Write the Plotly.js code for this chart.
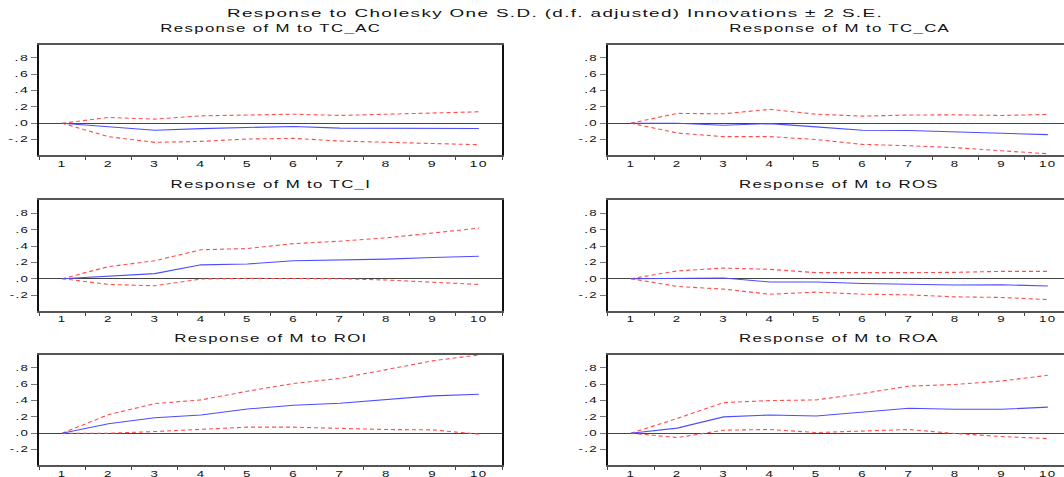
<!DOCTYPE html>
<html>
<head>
<meta charset="utf-8">
<script src="https://cdn.plot.ly/plotly-3.0.1.min.js"></script>
<style>
html, body { margin: 0; padding: 0; overflow: hidden; background: #ffffff; }
#chart { width: 1072px; height: 477px; }
</style>
</head>
<body>
<div id="chart"></div>
<script>
// ---- data ----
const periods = ['1','2','3','4','5','6','7','8','9','10'];
const shockNames = ['TC_AC','TC_CA','TC_I','ROS','ROI','ROA'];
const yTickVals = [-0.2, 0, 0.2, 0.4, 0.6, 0.8];
const yTickText = ['-.2', '.0', '.2', '.4', '.6', '.8'];
const mainTitle = 'Response to Cholesky One S.D. (d.f. adjusted) Innovations \u00b1 2 S.E.';

const resp_TC_AC  = [0, -0.040, -0.087, -0.066, -0.050, -0.040, -0.060, -0.062, -0.062, -0.065];
const upper_TC_AC = [0,  0.070,  0.050,  0.090,  0.100,  0.110,  0.095,  0.107,  0.124,  0.140];
const lower_TC_AC = [0, -0.165, -0.235, -0.223, -0.194, -0.186, -0.219, -0.231, -0.247, -0.264];

const resp_TC_CA  = [0,  0.000, -0.025, -0.005, -0.045, -0.087, -0.090, -0.103, -0.124, -0.140];
const upper_TC_CA = [0,  0.120,  0.115,  0.170,  0.110,  0.087,  0.100,  0.103,  0.095,  0.107];
const lower_TC_CA = [0, -0.120, -0.165, -0.165, -0.200, -0.260, -0.276, -0.300, -0.338, -0.375];

const resp_TC_I   = [0,  0.033,  0.062,  0.170,  0.180,  0.220,  0.227,  0.240,  0.260,  0.276];
const upper_TC_I  = [0,  0.148,  0.220,  0.355,  0.370,  0.430,  0.460,  0.500,  0.560,  0.620];
const lower_TC_I  = [0, -0.070, -0.087, -0.004,  0.004,  0.004,  0.000, -0.016, -0.040, -0.070];

const resp_ROS    = [0,  0.000,  0.008, -0.040, -0.040, -0.058, -0.066, -0.078, -0.074, -0.090];
const upper_ROS   = [0,  0.095,  0.130,  0.115,  0.074,  0.070,  0.074,  0.078,  0.090,  0.090];
const lower_ROS   = [0, -0.095, -0.128, -0.190, -0.165, -0.190, -0.198, -0.223, -0.230, -0.256];

const resp_ROI    = [0,  0.115,  0.190,  0.223,  0.297,  0.342,  0.367,  0.408,  0.458,  0.478];
const upper_ROI   = [0,  0.227,  0.363,  0.408,  0.515,  0.610,  0.672,  0.775,  0.887,  0.960];
const lower_ROI   = [0,  0.000,  0.020,  0.050,  0.074,  0.074,  0.058,  0.045,  0.041, -0.012];

const resp_ROA    = [0,  0.062,  0.200,  0.223,  0.210,  0.260,  0.305,  0.293,  0.293,  0.320];
const upper_ROA   = [0,  0.180,  0.375,  0.400,  0.408,  0.487,  0.577,  0.598,  0.640,  0.710];
const lower_ROA   = [0, -0.054,  0.037,  0.045,  0.008,  0.025,  0.045, -0.004, -0.041, -0.066];

const panels = [
  {name: 'TC_AC', resp: resp_TC_AC, upper: upper_TC_AC, lower: lower_TC_AC},
  {name: 'TC_CA', resp: resp_TC_CA, upper: upper_TC_CA, lower: lower_TC_CA},
  {name: 'TC_I',  resp: resp_TC_I,  upper: upper_TC_I,  lower: lower_TC_I},
  {name: 'ROS',   resp: resp_ROS,   upper: upper_ROS,   lower: lower_ROS},
  {name: 'ROI',   resp: resp_ROI,   upper: upper_ROI,   lower: lower_ROI},
  {name: 'ROA',   resp: resp_ROA,   upper: upper_ROA,   lower: lower_ROA}
];

// ---- layout geometry (pixels) ----
const W = 1072, H = 477;
const colX = [[39, 502], [607.7, 1071]];
const rowY = [[44.5, 155], [200, 310.5], [354.5, 465]];
const yRange = [-0.39, 0.965];
const FONT = 'Liberation Sans, Arial, sans-serif';

const traces = [];
const layout = {
  width: W, height: H,
  margin: {l: 0, r: 0, t: 0, b: 0, pad: 0},
  paper_bgcolor: '#ffffff', plot_bgcolor: '#ffffff',
  showlegend: false,
  font: {family: FONT, color: '#000000', size: 10},
  title: {
    text: mainTitle,
    x: 555 / W, xanchor: 'center', xref: 'paper',
    y: 1 - 13.2 / H, yanchor: 'middle', yref: 'container',
    font: {family: FONT, size: 11.8, color: '#111111'}
  },
  annotations: []
};

panels.forEach((p, i) => {
  const col = i % 2, row = Math.floor(i / 2);
  const k = i === 0 ? '' : String(i + 1);
  const xa = 'x' + k, ya = 'y' + k;
  const xDom = [colX[col][0] / W, colX[col][1] / W];
  const yDom = [1 - rowY[row][1] / H, 1 - rowY[row][0] / H];

  layout['xaxis' + k] = {
    domain: xDom, anchor: ya, type: 'category',
    categoryorder: 'array', categoryarray: periods,
    range: [-0.5, 9.5], fixedrange: true,
    showgrid: false, zeroline: false,
    showline: true, mirror: true, linecolor: '#555555', linewidth: 2,
    ticks: 'outside', tickson: 'boundaries', ticklen: 3, tickwidth: 1, tickcolor: '#444444',
    tickfont: {family: FONT, size: 8.3, color: '#111111'}
  };
  layout['yaxis' + k] = {
    domain: yDom, anchor: xa, range: yRange, fixedrange: true,
    showgrid: false,
    zeroline: true, zerolinecolor: '#444444', zerolinewidth: 1,
    showline: true, mirror: true, linecolor: '#111111', linewidth: 2,
    ticks: 'outside', ticklen: 6, tickwidth: 1, tickcolor: '#777777',
    tickvals: yTickVals, ticktext: yTickText,
    tickfont: {family: FONT, size: 8.3, color: '#111111'}
  };

  traces.push({
    x: periods, y: p.upper, xaxis: xa, yaxis: ya, type: 'scatter', mode: 'lines',
    line: {color: '#ff4d4d', width: 1.1, dash: '4px,3px'}, hoverinfo: 'skip'
  });
  traces.push({
    x: periods, y: p.lower, xaxis: xa, yaxis: ya, type: 'scatter', mode: 'lines',
    line: {color: '#ff4d4d', width: 1.1, dash: '4px,3px'}, hoverinfo: 'skip'
  });
  traces.push({
    x: periods, y: p.resp, xaxis: xa, yaxis: ya, type: 'scatter', mode: 'lines',
    line: {color: '#4d4dff', width: 1.1}, hoverinfo: 'skip'
  });

  layout.annotations.push({
    text: 'Response of M to ' + p.name,
    xref: 'paper', yref: 'paper',
    x: (xDom[0] + xDom[1]) / 2, xanchor: 'center',
    y: 1 - (rowY[row][0] - 16.3) / H, yanchor: 'middle',
    showarrow: false,
    font: {family: FONT, size: 10.5, color: '#111111'}
  });
});

// Reference text is drawn horizontally stretched; reproduce that look.
function stretchText(gd) {
  const texts = gd.querySelectorAll('.main-svg text');
  texts.forEach(el => {
    const isTick = !!el.closest('.xtick, .ytick');
    const spacing = isTick ? 0.9 : 0.85;
    const scale = isTick ? 1.7 : 1.6;
    el.style.letterSpacing = spacing + 'px';
    let bb;
    try { bb = el.getBBox(); } catch (e) { return; }
    if (!bb || bb.width === 0) return;
    const anchor = el.getAttribute('text-anchor') || 'start';
    let px;
    if (anchor === 'end') px = bb.x + bb.width;
    else if (anchor === 'middle') px = bb.x + bb.width / 2;
    else px = bb.x;
    const t = el.getAttribute('transform') || '';
    el.setAttribute('transform', (t + ' translate(' + px + ',0) scale(' + scale + ',1) translate(' + (-px) + ',0)').trim());
  });
}

Plotly.newPlot('chart', traces, layout, {staticPlot: true, displayModeBar: false})
  .then(gd => stretchText(gd));
</script>
</body>
</html>
